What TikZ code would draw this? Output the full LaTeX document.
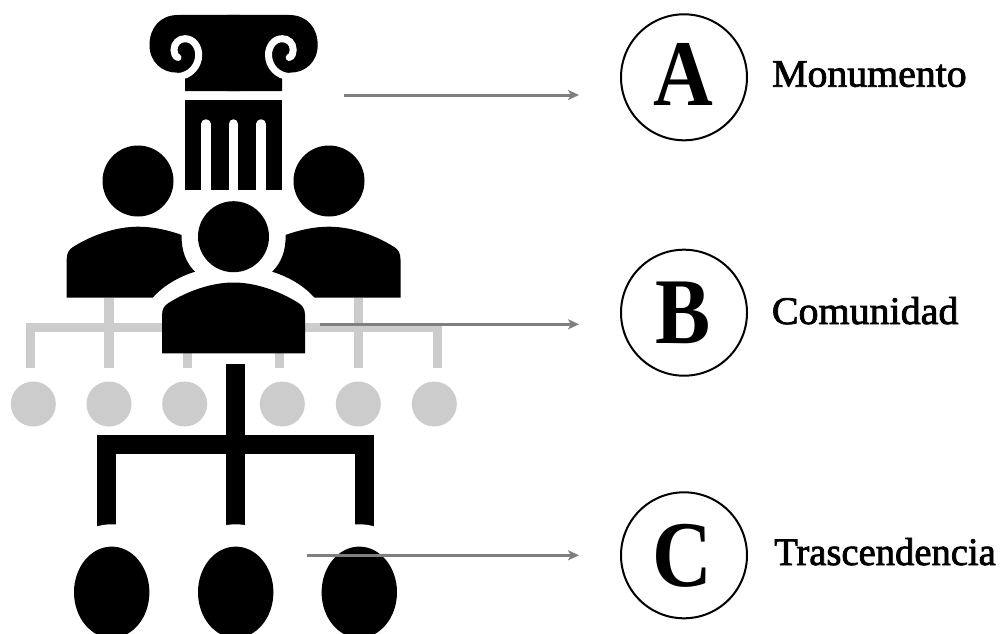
\documentclass[tikz,border=0pt]{standalone}
\usepackage{fontspec}
\usetikzlibrary{arrows.meta,shapes.geometric}
\setmainfont{Liberation Serif}
\newfontfamily\labfont[FakeBold=2]{Liberation Serif}
\newfontfamily\letfont{Liberation Serif Bold}
\definecolor{treegray}{HTML}{CCCCCC}
\definecolor{arrowgray}{HTML}{7F7F7F}
\tikzset{
  person/.style={circle,fill=black,inner sep=0pt,outer sep=0pt,minimum size=71pt},
  graydot/.style={circle,fill=treegray,inner sep=0pt,outer sep=0pt,minimum size=45pt},
  oval/.style={ellipse,fill=black,inner sep=0pt,outer sep=0pt,minimum width=75.4pt,minimum height=91.4pt},
  ovalhalo/.style={ellipse,fill=white,inner sep=0pt,outer sep=0pt,minimum width=120pt,minimum height=136pt},
  badge/.style={circle,draw=black,line width=2pt,fill=white,inner sep=0pt,minimum size=126pt},
  grayline/.style={draw=treegray,line width=9.4pt,line join=miter},
  blackline/.style={draw=black,line width=18.8pt,line join=miter},
  pointer/.style={draw=arrowgray,line width=3pt,-{Stealth[length=11pt,width=10pt,inset=3pt]}},
  flute/.style={draw=white,line width=9.5pt,line cap=round},
  letter/.style={anchor=base,inner sep=0pt,font=\letfont\fontsize{94}{94}\selectfont},
  caption/.style={anchor=base west,inner sep=0pt,font=\labfont\fontsize{39}{39}\selectfont}
}
\newcommand{\upperbodyshape}{%
  \fill[black] (66.7,297.7) -- (66.7,259.5) .. controls (66.7,253) and (69,249.5) .. (73,247)
      .. controls (92,235) and (116,226.7) .. (138.2,226.7)
      .. controls (153,226.7) and (168,230) .. (181.7,235)
      .. controls (181,250) and (186,263) .. (195,271.7)
      .. controls (178,277) and (163,286) .. (152.7,297.7) -- cycle;%
}
\newcommand{\capitalhalfshape}{%
  \fill[black] (240,15) -- (178,15) .. controls (160,15) and (149.5,28) .. (149.5,45)
      .. controls (149.5,62) and (162,72.7) .. (177,72.7) -- (185.2,78) -- (185.2,91) -- (240,91) -- cycle;
  \draw[white,line width=7pt,line cap=round] (178,57.5) .. controls (175,56.5) and (174,53) .. (174,50)
      .. controls (174,43) and (179,38.7) .. (185,38.7)
      .. controls (193,38.7) and (198.7,46) .. (198.7,55)
      .. controls (198.7,66) and (190,76) .. (178,76.5) -- (170,76.5);%
}
\begin{document}
\begin{tikzpicture}[x=1pt,y=-1pt]
\clip (0,0) rectangle (1004,634);
\fill[white] (0,0) rectangle (1004,634);

% column
\capitalhalfshape
\begin{scope}[shift={(467.2,0)},xscale=-1]
  \capitalhalfshape
\end{scope}
\fill[black] (185.2,100) rectangle (282,190);
\foreach \fx in {205.8,233.4,261.1} \draw[flute] (\fx,124) -- (\fx,192);
\fill[white] (180,190) rectangle (290,200);

% gray tree
\coordinate (gt1) at (30.7,368);   \coordinate (gt2) at (109,298);
\coordinate (gt3) at (187.3,327.6);\coordinate (gt4) at (279.6,327.6);
\coordinate (gt5) at (358.5,298);  \coordinate (gt6) at (437.6,368);
\coordinate (gb2) at (109,368);    \coordinate (gb3) at (187.3,368);
\coordinate (gb4) at (279.6,368);  \coordinate (gb5) at (358.5,368);
\draw[grayline] (gt1) |- (gt2 |- gt3) -- (gt3 -| gt4) -| (gt6);
\draw[grayline] (gt2) -- (gb2);
\draw[grayline] (gt3) -- (gb3);
\draw[grayline] (gt4) -- (gb4);
\draw[grayline] (gt5) -- (gb5);
\foreach \n/\cx in {1/33.3,2/109,3/184.7,4/282.3,5/358.3,6/434.3}
  \node[graydot] (dot\n) at (\cx,404) {};

% people
\upperbodyshape
\begin{scope}[shift={(467.2,0)},xscale=-1]
  \upperbodyshape
\end{scope}
\node[person] (headl) at (138,181) {};
\node[person] (headr) at (329,181) {};
\node[person] (headc) at (233.5,236.7) {};
\fill[black] (162,353.3) -- (162,315) .. controls (162,309) and (164.5,305.5) .. (168.5,303)
  .. controls (187.5,291) and (211.5,282.5) .. (233.5,282.5)
  .. controls (255.5,282.5) and (279.5,291) .. (298.5,303)
  .. controls (302.5,305.5) and (305,309) .. (305,315) -- (305,353.3) -- cycle;

% black tree
\coordinate (bt) at (235.6,364);   \coordinate (bj) at (235.6,444.3);
\coordinate (bl) at (106.7,532);   \coordinate (br) at (364.2,532);
\coordinate (bm) at (235.6,532);
\draw[blackline] (bl) |- (bj) -| (br);
\draw[blackline] (bt) -- (bm);
\foreach \n/\cx in {1/111.7,2/235.7,3/359.3}
  \node[ovalhalo] (halo\n) at (\cx,592.3) {};
\foreach \n/\cx in {1/111.7,2/235.7,3/359.3}
  \node[oval] (oval\n) at (\cx,592.3) {};

% badges
\node[badge] (ba) at (684,77.3) {};
\node[badge] (bb) at (684,312.7) {};
\node[badge] (bc) at (684,555.3) {};
\node[letter] (la) at (683,105) {\scalebox{.88}[1]{A}};
\node[letter] (lb) at (683,343) {\scalebox{.88}[1]{B}};
\node[letter] (lc) at (682,586) {\scalebox{.88}[1]{C}};

% captions
\node[caption] (ca) at (772,86.7) {\scalebox{1.02}[1]{Monumento}};
\node[caption] (cb) at (771.7,324) {\scalebox{1.025}[1]{Comunidad}};
\node[caption] (cc) at (774,565) {\scalebox{.99}[1]{Trascendencia}};

% pointers
\coordinate (pa0) at (344.3,95);  \coordinate (pa1) at (579,95);
\coordinate (pb0) at (320,324.3); \coordinate (pb1) at (579,324.3);
\coordinate (pc0) at (306.7,555.3); \coordinate (pc1) at (579,555.3);
\draw[pointer] (pa0) -- (pa1);
\draw[pointer] (pb0) -- (pb1);
\draw[pointer] (pc0) -- (pc1);
\end{tikzpicture}
\end{document}
